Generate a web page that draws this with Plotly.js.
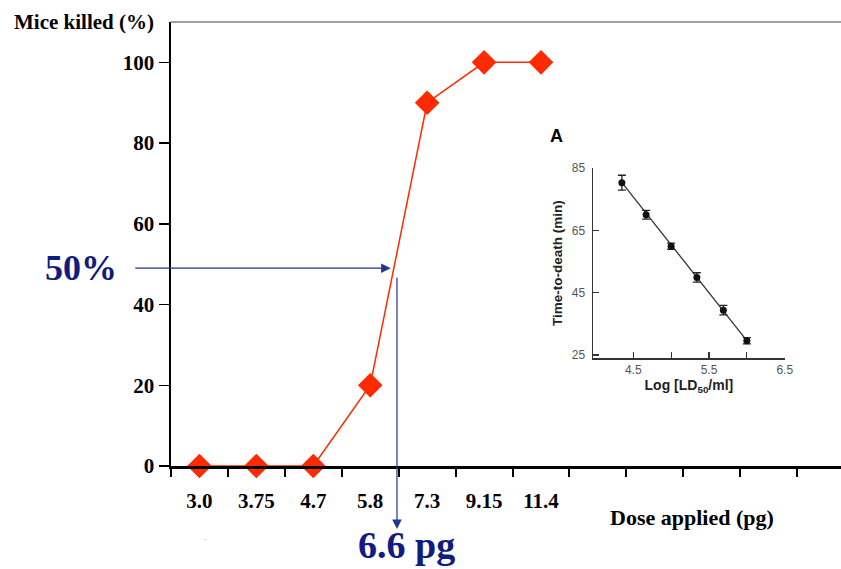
<!DOCTYPE html>
<html>
<head>
<meta charset="utf-8">
<script src="https://cdn.plot.ly/plotly-3.0.1.min.js"></script>
<style>html,body{margin:0;padding:0;background:#fff;}#chart{width:841px;height:569px;}</style>
</head>
<body>
<div id="chart"></div>
<script>
// Main chart data
const doseLabels = ['3.0', '3.75', '4.7', '5.8', '7.3', '9.15', '11.4'];
const miceKilled = [0, 0, 0, 20, 90, 100, 100];
const yTicks = [0, 20, 40, 60, 80, 100];

// Inset (A) data
const logLD50 = [4.35, 4.67, 5.0, 5.34, 5.69, 6.0];
const timeToDeath = [80.3, 70.0, 59.9, 49.9, 39.4, 29.6];
const timeErr = [2.4, 1.4, 1.0, 1.5, 1.5, 1.0];
const fitX = [4.33, 6.02];
const fitY = [81.0, 29.0];
const insetXTicks = [4.5, 5.0, 5.5, 6.0, 6.5];
const insetXTickText = ['4.5', '', '5.5', '', '6.5'];
const insetYTicks = [25, 45, 65, 85];

// Annotated LD50 read-off
const halfLevel = 49;
const ld50Pos = 3.47;

const xIdx = doseLabels.map((_, i) => i);
const boundaries = [];
for (let b = -0.5; b < 12; b += 1) boundaries.push(b);

const red = '#ff2a00';
const navy = '#101c80';
const arrowCol = '#25358f';
const serif = 'Liberation Serif, Times New Roman, serif';
const sans = 'Liberation Sans, Arial, sans-serif';

const traces = [
  {
    x: xIdx, y: miceKilled, type: 'scatter', mode: 'lines+markers',
    line: {color: red, width: 1.5},
    marker: {symbol: 'diamond', size: 19, color: red},
    cliponaxis: false, xaxis: 'x', yaxis: 'y', hoverinfo: 'none'
  },
  {
    x: fitX, y: fitY, type: 'scatter', mode: 'lines',
    line: {color: '#333', width: 1.3}, xaxis: 'x2', yaxis: 'y2', hoverinfo: 'none'
  },
  {
    x: logLD50, y: timeToDeath, type: 'scatter', mode: 'markers',
    marker: {color: '#111', size: 7},
    error_y: {type: 'data', array: timeErr, visible: true, color: '#222', thickness: 1.3, width: 4},
    xaxis: 'x2', yaxis: 'y2', hoverinfo: 'none'
  }
];

const layout = {
  width: 841, height: 569,
  margin: {l: 171, r: 0, t: 22, b: 103},
  paper_bgcolor: '#fff', plot_bgcolor: '#fff',
  showlegend: false,
  xaxis: {
    range: [-0.5, 11.27], tickmode: 'array', tickvals: xIdx, ticktext: doseLabels,
    ticks: 'outside', ticklen: 14, tickcolor: 'rgba(0,0,0,0)',
    tickfont: {family: serif, size: 21, color: '#000', weight: 'bold'},
    showline: true, linecolor: '#000', linewidth: 2.5, showgrid: false, zeroline: false,
    minor: {tickmode: 'array', tickvals: boundaries, ticks: 'outside', ticklen: 8, tickwidth: 2, tickcolor: '#000', showgrid: false}
  },
  yaxis: {
    range: [0, 110], tickmode: 'array', tickvals: yTicks,
    ticks: 'outside', ticklen: 10, tickwidth: 1.5, tickcolor: '#000',
    tickfont: {family: serif, size: 21, color: '#000', weight: 'bold'},
    showline: true, linecolor: '#000', linewidth: 2.5, showgrid: false, zeroline: false
  },
  xaxis2: {
    domain: [0.630, 0.916], anchor: 'y2', range: [3.97, 6.5],
    tickmode: 'array', tickvals: insetXTicks, ticktext: insetXTickText,
    ticks: 'inside', ticklen: 6, tickwidth: 1.2, tickcolor: '#333',
    tickfont: {family: sans, size: 12, color: '#555'},
    showline: true, linecolor: '#333', linewidth: 1.5, showgrid: false, zeroline: false,
    title: {text: 'Log [LD<sub>50</sub>/ml]', font: {family: sans, size: 14, color: '#222', weight: 'bold'}, standoff: 2}
  },
  yaxis2: {
    domain: [0.243, 0.671], anchor: 'x2', range: [24.0, 85],
    tickmode: 'array', tickvals: insetYTicks,
    ticks: 'inside', ticklen: 6, tickwidth: 1.2, tickcolor: '#333',
    ticklabelstandoff: 4,
    tickfont: {family: sans, size: 12, color: '#555'},
    showline: true, linecolor: '#333', linewidth: 1.5, showgrid: false, zeroline: false,
    title: {text: 'Time-to-death (min)', font: {family: sans, size: 13.5, color: '#222', weight: 'bold'}, standoff: 6}
  },
  shapes: [
    {type: 'line', xref: 'paper', yref: 'paper', x0: 0, x1: 1, y0: 1, y1: 1, line: {color: '#444', width: 1}}
  ],
  annotations: [
    {xref: 'paper', yref: 'paper', x: -0.238, y: 1, xanchor: 'left', yanchor: 'middle',
     text: 'Mice killed (%)', showarrow: false, font: {family: serif, size: 21, color: '#000', weight: 'bold'}},
    {xref: 'x', yref: 'paper', x: 8.65, y: -0.117, xanchor: 'center', yanchor: 'middle',
     text: 'Dose applied (pg)', showarrow: false, font: {family: serif, size: 22, color: '#000', weight: 'bold'}},
    {xref: 'x', yref: 'y', x: ld50Pos - 0.11, y: halfLevel, ax: -257, ay: 0, axref: 'pixel', ayref: 'pixel',
     text: '', showarrow: true, arrowhead: 2, arrowsize: 1.6, arrowwidth: 1.2, arrowcolor: arrowCol},
    {xref: 'x', yref: 'paper', x: ld50Pos, y: -0.142, ax: 0, ay: -253, axref: 'pixel', ayref: 'pixel',
     text: '', showarrow: true, arrowhead: 2, arrowsize: 1.6, arrowwidth: 1.2, arrowcolor: arrowCol},
    {xref: 'paper', yref: 'y', x: -0.135, y: halfLevel, xanchor: 'center', yanchor: 'middle',
     text: '50%', showarrow: false, font: {family: serif, size: 36, color: navy, weight: 'bold'}},
    {xref: 'x', yref: 'paper', x: ld50Pos + 0.17, y: 0, yshift: -79, xanchor: 'center', yanchor: 'middle',
     text: '6.6 pg', showarrow: false, font: {family: serif, size: 38, color: navy, weight: 'bold'}},
    {xref: 'paper', yref: 'paper', x: 0.575, y: 0.743, xanchor: 'center', yanchor: 'middle',
     text: 'A', showarrow: false, font: {family: sans, size: 18, color: '#000', weight: 'bold'}},
    {xref: 'paper', yref: 'paper', x: 0.051, y: -0.16, xanchor: 'center', yanchor: 'middle',
     text: '.', showarrow: false, font: {family: sans, size: 8, color: '#777'}}
  ]
};

Plotly.newPlot('chart', traces, layout, {displayModeBar: false, staticPlot: true});
</script>
</body>
</html>
